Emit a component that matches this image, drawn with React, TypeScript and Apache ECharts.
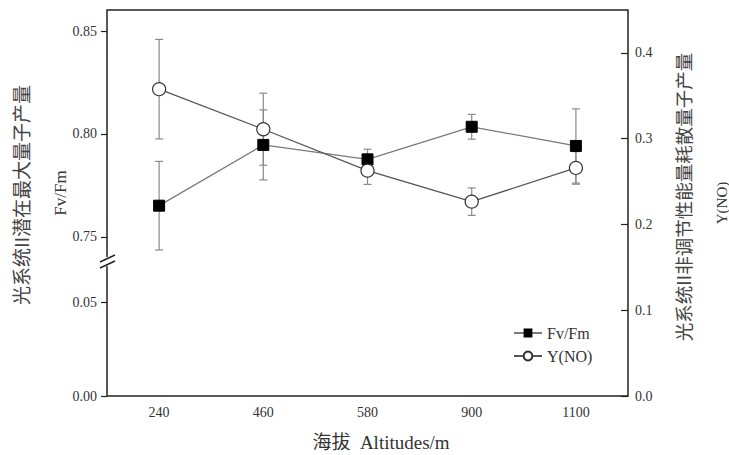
import React, { useEffect, useRef } from "react";
import * as echarts from "echarts";

const categories = ["240", "460", "580", "900", "1100"];
const fvfm = [0.7652, 0.7947, 0.7877, 0.8035, 0.7942];
const fvfmErr = [0.0215, 0.017, 0.0049, 0.006, 0.018];
const yno = [0.3577, 0.311, 0.2627, 0.2266, 0.2659];
const ynoErr = [0.058, 0.042, 0.016, 0.016, 0.019];
const upperTicks = [0.75, 0.8, 0.85];
const lowerTicks = [0, 0.05];

const FONT = "'Liberation Serif', 'Times New Roman', 'Noto Sans CJK SC', serif";
const CJK = "'Noto Sans CJK SC', 'Liberation Serif', serif";
const AX = "#222";
const TXT = "#333";

function errorRender(params: any, api: any) {
  const x = api.value(0);
  const v = api.value(1);
  const e = api.value(2);
  const top = api.coord([x, v + e]);
  const bot = api.coord([x, v - e]);
  const hw = 4;
  const style = { stroke: "#8a8a8a", lineWidth: 1.2 };
  return {
    type: "group",
    children: [
      { type: "line", shape: { x1: top[0], y1: top[1], x2: bot[0], y2: bot[1] }, style },
      { type: "line", shape: { x1: top[0] - hw, y1: top[1], x2: top[0] + hw, y2: top[1] }, style },
      { type: "line", shape: { x1: bot[0] - hw, y1: bot[1], x2: bot[0] + hw, y2: bot[1] }, style },
    ],
  };
}

export default function App() {
  const ref = useRef<HTMLDivElement>(null);
  useEffect(() => {
    if (!ref.current) return;
    const chart = echarts.init(ref.current, null, { renderer: "svg" });
    const L = 107, W = 521;
    const option: any = {
      animation: false,
      backgroundColor: "#fff",
      grid: [
        { left: L, width: W, top: 10, height: 255 },
        { left: L, width: W, top: 265, height: 131 },
        { left: L, width: W, top: 10, height: 386, show: true, borderColor: AX, borderWidth: 1.5, backgroundColor: "transparent" },
      ],
      xAxis: [
        { type: "category", gridIndex: 0, data: categories, show: false, boundaryGap: true },
        {
          type: "category", gridIndex: 1, data: categories, boundaryGap: true,
          axisLine: { show: false },
          axisTick: { inside: true, length: 7, alignWithLabel: true, lineStyle: { color: AX, width: 1.2 } },
          axisLabel: { margin: 9, fontFamily: FONT, fontSize: 14, color: TXT },
        },
        { type: "category", gridIndex: 2, data: categories, show: false, boundaryGap: true },
      ],
      yAxis: [
        {
          type: "value", gridIndex: 0, min: 0.7364, max: 0.8602,
          axisLine: { show: false }, splitLine: { show: false },
          axisTick: { show: true, customValues: upperTicks, length: 6, lineStyle: { color: AX, width: 1.2 } },
          axisLabel: { customValues: upperTicks, formatter: (v: number) => v.toFixed(2), margin: 10, fontFamily: FONT, fontSize: 14, color: TXT },
        },
        {
          type: "value", gridIndex: 1, min: 0, max: 0.0697,
          axisLine: { show: false }, splitLine: { show: false },
          axisTick: { show: true, customValues: lowerTicks, length: 6, lineStyle: { color: AX, width: 1.2 } },
          axisLabel: { customValues: lowerTicks, formatter: (v: number) => v.toFixed(2), margin: 10, fontFamily: FONT, fontSize: 14, color: TXT },
        },
        {
          type: "value", gridIndex: 2, position: "right", min: 0, max: 0.45, interval: 0.1,
          axisLine: { show: false }, splitLine: { show: false },
          axisTick: { show: true, inside: true, length: 7, lineStyle: { color: AX, width: 1.2 } },
          axisLabel: { formatter: (v: number) => v.toFixed(1), margin: 7, fontFamily: FONT, fontSize: 14, color: TXT, showMaxLabel: false },
        },
      ],
      legend: {
        orient: "vertical", left: 508, top: 320, itemWidth: 28, itemHeight: 11, itemGap: 7,
        textStyle: { fontFamily: FONT, fontSize: 16, color: TXT },
        data: ["Fv/Fm", "Y(NO)"],
      },
      series: [
        {
          type: "custom", xAxisIndex: 0, yAxisIndex: 0, renderItem: errorRender, z: 1,
          data: categories.map((_, i) => [i, fvfm[i], fvfmErr[i]]),
        },
        {
          type: "custom", xAxisIndex: 2, yAxisIndex: 2, renderItem: errorRender, z: 1,
          data: categories.map((_, i) => [i, yno[i], ynoErr[i]]),
        },
        {
          name: "Fv/Fm", type: "line", xAxisIndex: 0, yAxisIndex: 0, data: fvfm, z: 3,
          symbol: "rect", symbolSize: 11,
          itemStyle: { color: "#000", borderColor: "#000" },
          lineStyle: { color: "#7a7a7a", width: 1.3 },
        },
        {
          name: "Y(NO)", type: "line", xAxisIndex: 2, yAxisIndex: 2, data: yno, z: 4,
          symbol: "circle", symbolSize: 13,
          itemStyle: { color: "#fff", borderColor: "#333", borderWidth: 1.2 },
          lineStyle: { color: "#555", width: 1.3 },
        },
      ],
      graphic: [
        { type: "rect", z: 100, shape: { x: 104, y: 257, width: 7, height: 9 }, style: { fill: "#fff" } },
        { type: "line", z: 101, shape: { x1: 100, y1: 262, x2: 115, y2: 255 }, style: { stroke: AX, lineWidth: 1.4 } },
        { type: "line", z: 101, shape: { x1: 100, y1: 268, x2: 115, y2: 261 }, style: { stroke: AX, lineWidth: 1.4 } },
        {
          type: "text", z: 100, x: 20, y: 195, rotation: Math.PI / 2,
          style: { text: "光系统II潜在最大量子产量", font: `19px ${CJK}`, fill: "#444", textAlign: "center", textVerticalAlign: "middle" },
        },
        {
          type: "text", z: 100, x: 60, y: 193, rotation: Math.PI / 2,
          style: { text: "Fv/Fm", font: `17px ${FONT}`, fill: TXT, textAlign: "center", textVerticalAlign: "middle" },
        },
        {
          type: "text", z: 100, x: 683, y: 197, rotation: Math.PI / 2,
          style: { text: "光系统II非调节性能量耗散量子产量", font: `18.5px ${CJK}`, fill: "#444", textAlign: "center", textVerticalAlign: "middle" },
        },
        {
          type: "text", z: 100, x: 722, y: 203, rotation: Math.PI / 2,
          style: { text: "Y(NO)", font: `15px ${FONT}`, fill: TXT, textAlign: "center", textVerticalAlign: "middle" },
        },
        {
          type: "text", z: 100, x: 381, y: 442,
          style: { text: "海拔  Altitudes/m", font: `19px ${FONT}`, fill: TXT, textAlign: "center", textVerticalAlign: "middle" },
        },
      ],
    };
    chart.setOption(option);
    return () => chart.dispose();
  }, []);
  return <div ref={ref} style={{ width: 729, height: 455, position: "absolute", left: 0, top: 0 }} />;
}
